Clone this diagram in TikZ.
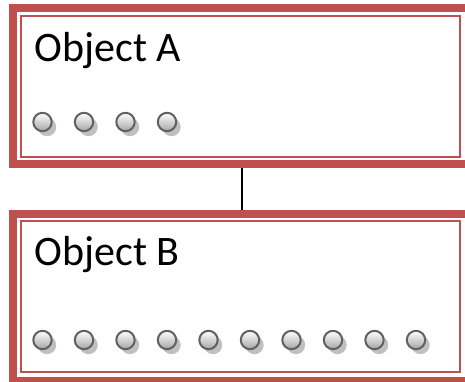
\documentclass[tikz,border=0pt]{standalone}
\usepackage{fontspec}
\setmainfont{Carlito}
\usetikzlibrary{shadows}
\definecolor{frame}{HTML}{C0504D}
\definecolor{ring}{HTML}{606060}
\definecolor{shade}{HTML}{C0C0C0}
\tikzset{
  framebox/.style={draw=frame,line width=8pt,fill=white,minimum width=456.6pt,inner sep=0pt},
  innerbox/.style={draw=frame,line width=2.2pt,minimum width=438.5pt,inner sep=0pt},
  objname/.style={anchor=base west,inner sep=0pt,font=\fontsize{42}{50}\selectfont},
  port/.style={circle,draw=ring,line width=2pt,minimum size=18.4pt,inner sep=0pt,
    top color=white,bottom color=black!35,
    general shadow={fill=shade,shadow xshift=4.5pt,shadow yshift=-5pt}},
  link/.style={draw=black,line width=1.8pt},
}

\begin{document}
\begin{tikzpicture}[x=1pt,y=-1pt]
  \useasboundingbox (0,0) rectangle (465,382);
  % ── object A ──
  \node[framebox,minimum height=155.7pt] (objA) at (241.6,86.2) {};
  \node[innerbox,minimum height=140.8pt] (objAin) at (240.45,86.6) {};
  \node[objname] (nameA) at (34.5,61.7) {Object A};
  \foreach \i in {1,...,4}
    \node[port] (a\i) at ({42.5+41.5*(\i-1)},122) {};
  % ── object B ──
  \node[framebox,minimum height=166.5pt] (objB) at (241.6,297.25) {};
  \node[innerbox,minimum height=150.7pt] (objBin) at (240.45,296.35) {};
  \node[objname] (nameB) at (34.5,265) {Object B};
  \foreach \i in {1,...,10}
    \node[port] (b\i) at ({42.5+41.5*(\i-1)},340) {};
  % link between the two
  \draw[link] (objA.south) -- (objB.north);
\end{tikzpicture}
\end{document}
